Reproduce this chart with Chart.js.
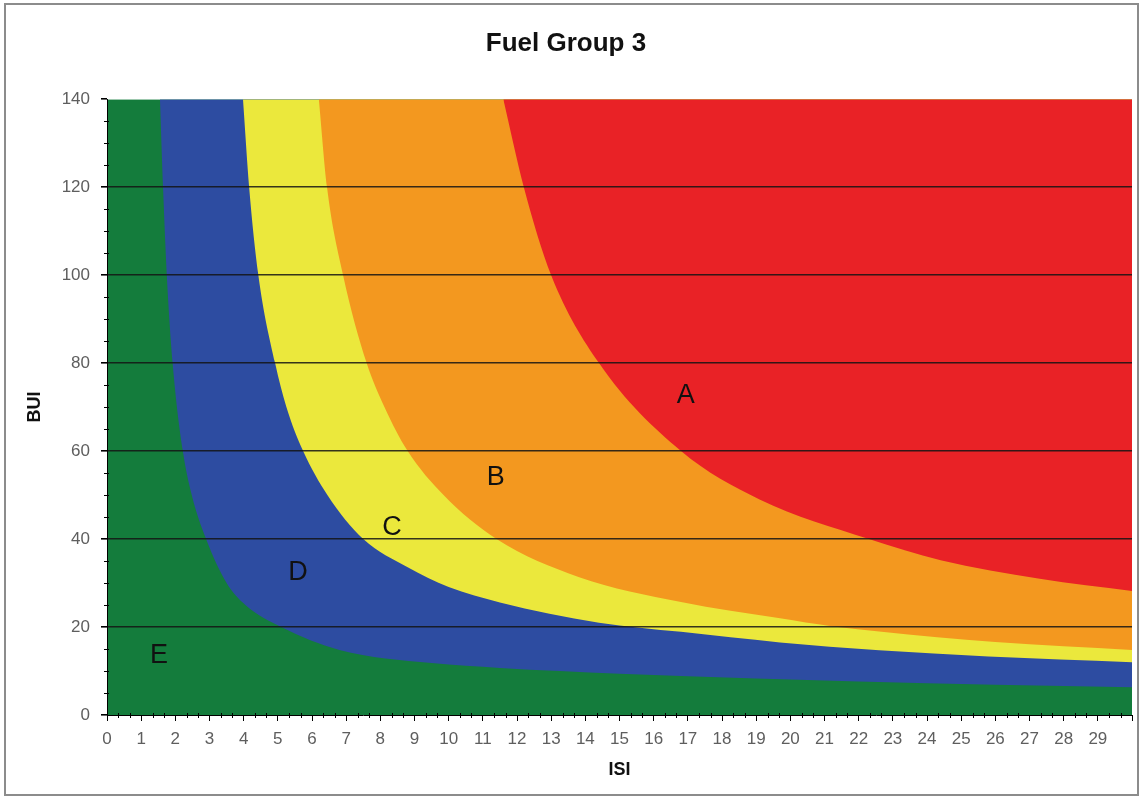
<!DOCTYPE html>
<html>
<head>
<meta charset="utf-8">
<title>Fuel Group 3</title>
<script src="https://cdn.jsdelivr.net/npm/chart.js@4.4.1/dist/chart.umd.min.js"></script>
<style>
  html, body { margin: 0; padding: 0; background: #fff; overflow: hidden; }
  canvas { display: block; }
</style>
</head>
<body>
<canvas id="fuel-chart" width="1143" height="799"></canvas>
<script>
// Zone boundaries: upper edge of each zone (ISI -> BUI)
const isiE = [1.55, 1.64, 1.75, 1.92, 2.22, 2.48, 2.9, 3.5, 4.05, 5.1, 6.8, 9.5, 11.5, 15, 19, 22, 26, 30];
const buiE = [140, 120, 100, 80, 60, 50, 40, 30, 25, 20, 14.8, 11.8, 10.7, 9.4, 8.3, 7.6, 6.9, 6.3];

const isiD = [3.98, 4.16, 4.43, 4.92, 5.25, 5.74, 6.45, 7.5, 8.8, 10, 11.5, 14.4, 16.8, 19.7, 22.6, 25.8, 30];
const buiD = [140, 120, 100, 80, 70, 60, 50, 40, 33.6, 29.1, 25.6, 21, 18.9, 16.5, 14.7, 13.3, 12];

const isiC = [6.2, 6.44, 6.91, 7.6, 8.12, 8.8, 9.85, 11.4, 13.8, 16.8, 19.7, 21.2, 22.6, 26, 30];
const buiC = [140, 120, 100, 80, 70, 60, 50, 40, 31.4, 25.7, 22, 20.2, 19, 16.6, 14.8];

const isiB = [11.6, 12.2, 13.0, 14.4, 16.8, 19.1, 22.3, 24.4, 27.3, 30];
const buiB = [140, 120, 100, 80, 60, 49, 40, 35.2, 31, 28.2];

// full plot extent (zone E lies under everything)
const isiAll = [0, 30];
const buiAll = [140, 140];

// zone letters and where they sit
const zoneNames = ['A', 'B', 'C', 'D', 'E'];
const zoneISI = [16.94, 11.38, 8.34, 5.59, 1.52];
const zoneBUI = [72.7, 53.9, 42.6, 32.3, 13.6];

const colors = {
    E: '#147c3c',
    D: '#2d4ca1',
    C: '#ebe83c',
    B: '#f3981f',
    A: '#e92226'
};

function toPoints(xs, ys) {
    return xs.map((x, i) => ({ x: x, y: ys[i] }));
}

// each zone = area above the boundary of the zone below it
function zone(label, xs, ys, fill) {
    return {
        label: label,
        data: toPoints(xs, ys),
        backgroundColor: colors[label],
        borderWidth: 0,
        pointRadius: 0,
        fill: fill,
        cubicInterpolationMode: 'monotone'
    };
}

// white page + grey frame
const framePlugin = {
    id: 'frame',
    beforeDraw(chart) {
        const ctx = chart.ctx;
        ctx.save();
        ctx.fillStyle = '#fff';
        ctx.fillRect(0, 0, chart.width, chart.height);
        ctx.strokeStyle = '#8c8c8c';
        ctx.lineWidth = 2;
        ctx.strokeRect(5, 4, chart.width - 10, chart.height - 8);
        ctx.restore();
    }
};

// minor ticks + zone letters
const extrasPlugin = {
    id: 'extras',
    afterDraw(chart) {
        const ctx = chart.ctx;
        const xs = chart.scales.x, ys = chart.scales.y;
        const area = chart.chartArea;
        ctx.save();
        ctx.strokeStyle = '#000';
        ctx.lineWidth = 1;
        ctx.beginPath();
        for (let v = 5; v < 140; v += 5) {
            if (v % 20 === 0) continue;
            const py = Math.round(ys.getPixelForValue(v)) + 0.5;
            ctx.moveTo(area.left - 3, py);
            ctx.lineTo(area.left + 2, py);
        }
        for (let k = 1; k < 90; k++) {
            if (k % 3 === 0) continue;
            const px = Math.round(xs.getPixelForValue(k / 3)) + 0.5;
            ctx.moveTo(px, area.bottom - 2);
            ctx.lineTo(px, area.bottom + 3);
        }
        ctx.stroke();

        ctx.fillStyle = '#111';
        ctx.font = '27px "Liberation Sans", Arial, sans-serif';
        ctx.textAlign = 'center';
        ctx.textBaseline = 'middle';
        zoneNames.forEach((n, i) => {
            ctx.fillText(n, xs.getPixelForValue(zoneISI[i]), ys.getPixelForValue(zoneBUI[i]));
        });
        ctx.restore();
    }
};

const ctx = document.getElementById('fuel-chart');
new Chart(ctx, {
    type: 'line',
    data: {
        datasets: [
            zone('A', isiB, buiB, 'end'),
            zone('B', isiC, buiC, 'end'),
            zone('C', isiD, buiD, 'end'),
            zone('D', isiE, buiE, 'end'),
            zone('E', isiAll, buiAll, 'origin')
        ]
    },
    options: {
        responsive: false,
        animation: false,
        devicePixelRatio: 1,
        layout: { padding: { left: 0, right: 11, top: 0, bottom: 0 } },
        plugins: {
            legend: { display: false },
            tooltip: { enabled: false },
            title: {
                display: true,
                text: 'Fuel Group 3',
                color: '#111',
                font: { family: '"Liberation Sans", Arial, sans-serif', size: 26, weight: 'bold' },
                padding: { top: 28, bottom: 40 }
            }
        },
        scales: {
            x: {
                type: 'linear',
                min: 0,
                max: 30,
                afterFit(scale) { scale.height = 84; },
                border: { display: true, color: '#000', width: 1, z: 2 },
                grid: { drawOnChartArea: false, drawTicks: true, tickLength: 6, tickColor: '#000', z: 2 },
                ticks: {
                    stepSize: 1,
                    autoSkip: false,
                    maxRotation: 0,
                    padding: 8,
                    color: '#5e5e5e',
                    font: { family: '"Liberation Sans", Arial, sans-serif', size: 17 },
                    callback: v => (v < 30 ? v : '')
                },
                title: {
                    display: true,
                    text: 'ISI',
                    color: '#111',
                    font: { family: '"Liberation Sans", Arial, sans-serif', size: 18, weight: 'bold' },
                    padding: { top: 0, bottom: 18 }
                }
            },
            y: {
                min: 0,
                max: 140,
                afterFit(scale) { scale.width = 107; },
                border: { display: true, color: '#000', width: 1, z: 2 },
                grid: {
                    z: 1,
                    color: c => (c.tick && c.tick.value > 0 && c.tick.value < 140 ? 'rgba(20,20,20,0.85)' : 'rgba(0,0,0,0)'),
                    lineWidth: 1.6,
                    drawTicks: true,
                    tickLength: 6,
                    tickColor: '#000'
                },
                ticks: {
                    stepSize: 20,
                    padding: 11,
                    color: '#5e5e5e',
                    font: { family: '"Liberation Sans", Arial, sans-serif', size: 17 }
                },
                title: {
                    display: true,
                    text: 'BUI',
                    color: '#111',
                    font: { family: '"Liberation Sans", Arial, sans-serif', size: 18, weight: 'bold' },
                    padding: { top: 24, bottom: 0 }
                }
            }
        }
    },
    plugins: [framePlugin, extrasPlugin]
});
</script>
</body>
</html>
